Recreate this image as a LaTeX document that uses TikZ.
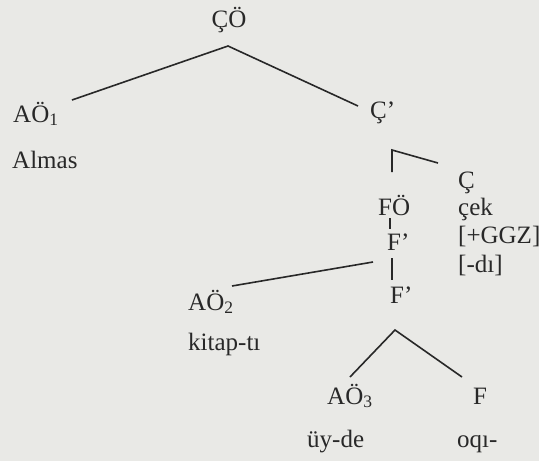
\documentclass[tikz,border=0pt]{standalone}
\usepackage{fontspec}
\setmainfont{Liberation Serif}
\definecolor{paper}{RGB}{233,233,230}
\definecolor{ink}{RGB}{40,40,40}
\begin{document}
\begin{tikzpicture}[x=1pt,y=-1pt,
  lbl/.style={anchor=base west,inner sep=0pt,text=ink,font=\fontsize{25}{29}\selectfont},
  edge/.style={draw=ink,line width=1.6pt}]
\fill[paper] (0,0) rectangle (539,461);
\useasboundingbox (0,0) rectangle (539,461);
% labels
\node[lbl,anchor=base] (CO) at (229,27) {ÇÖ};
\node[lbl] (AO1) at (13,122) {AÖ\textsubscript{1}};
\node[lbl] (Almas) at (12,168) {Almas};
\node[lbl] (Cbar) at (370,118) {Ç’};
\node[lbl] (C) at (458,188) {Ç};
\node[lbl] (FO) at (378,215) {FÖ};
\node[lbl] (cek) at (458,215) {çek};
\node[lbl] (Fb1) at (387,250) {F’};
\node[lbl] (GGZ) at (458,243) {[+GGZ]};
\node[lbl] (di) at (458,272) {[-dı]};
\node[lbl] (Fb2) at (390,303) {F’};
\node[lbl] (AO2) at (188,310) {AÖ\textsubscript{2}};
\node[lbl] (kitap) at (188,350) {kitap-tı};
\node[lbl] (AO3) at (327,404) {AÖ\textsubscript{3}};
\node[lbl] (F) at (473,404) {F};
\node[lbl] (uyde) at (307,447) {üy-de};
\node[lbl] (oqi) at (457,447) {oqı-};
% connector end points
\coordinate (co-top) at (228,46);
\coordinate (ao1-end) at (72,100);
\coordinate (cbar-end) at (358,106);
\coordinate (br-top) at (392,150);
\coordinate (br-bot) at (392,172);
\coordinate (c-end) at (438,163);
\coordinate (fo-bot) at (390,218);
\coordinate (fb1-top) at (390,229);
\coordinate (fb1-right) at (373,262);
\coordinate (ao2-end) at (232,286);
\coordinate (fb1-bot) at (392,258);
\coordinate (fb2-top) at (392,280);
\coordinate (fb2-apex) at (395,330);
\coordinate (ao3-end) at (350,377);
\coordinate (f-end) at (462,377);
% connectors
\draw[edge] (ao1-end) -- (co-top) -- (cbar-end);
\draw[edge] (br-bot) -- (br-top) -- (c-end);
\draw[edge] (fo-bot) -- (fb1-top);
\draw[edge] (fb1-right) -- (ao2-end);
\draw[edge] (fb1-bot) -- (fb2-top);
\draw[edge] (ao3-end) -- (fb2-apex) -- (f-end);
\end{tikzpicture}
\end{document}
